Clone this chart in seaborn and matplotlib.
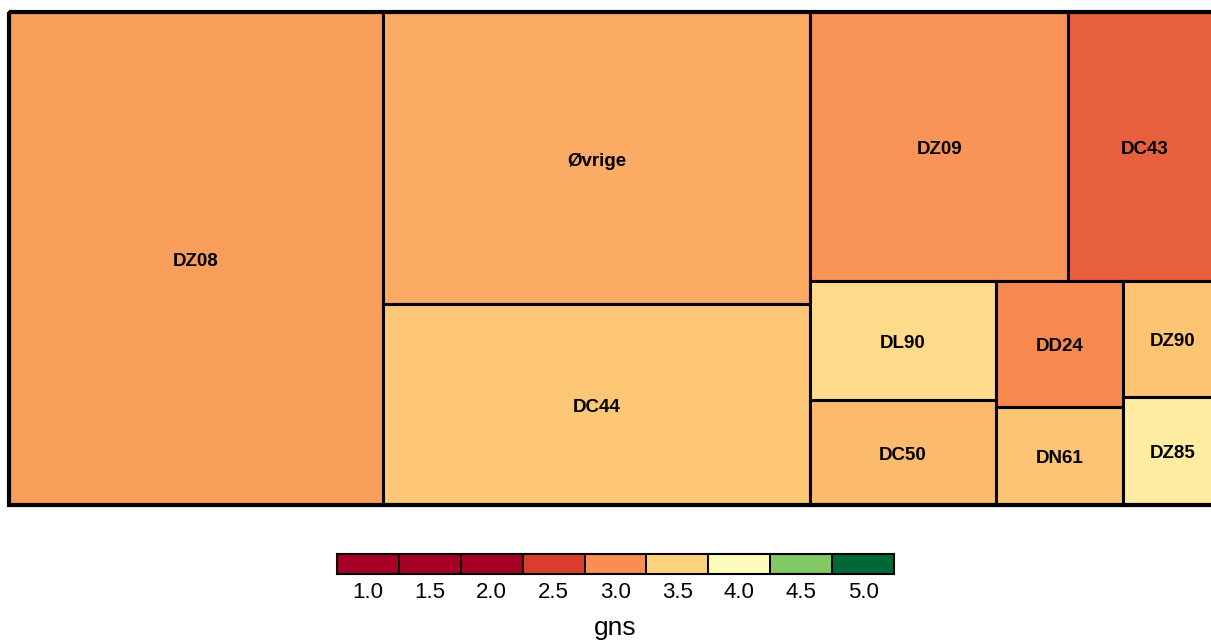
import matplotlib
matplotlib.use("Agg")
import matplotlib.pyplot as plt
import seaborn as sns
import numpy as np
from matplotlib.colors import LinearSegmentedColormap, Normalize
from matplotlib.patches import Rectangle

# tile data (size = area weight, gns = colour value)
labels = ["DZ08", "Øvrige", "DC44", "DZ09", "DC43", "DL90", "DC50", "DD24", "DN61", "DZ90", "DZ85"]
sizes = [184400, 124700, 85800, 69400, 41400, 22130, 19530, 16000, 12450, 11480, 10690]
gns = [3.11, 3.22, 3.43, 3.05, 2.71, 3.62, 3.33, 2.97, 3.42, 3.41, 3.79]

# legend
legend_values = [1.0, 1.5, 2.0, 2.5, 3.0, 3.5, 4.0, 4.5, 5.0]
legend_title = "gns"

# colour scale
cmap_nodes = [1.0, 1.5, 2.0, 2.5, 3.0, 3.5, 4.0, 4.5, 5.0]
cmap_colors = ["#a50026", "#a50026", "#a50026", "#dc3d2d", "#f88d52",
               "#fed07a", "#fffebe", "#86cb66", "#006837"]
norm = Normalize(vmin=1.0, vmax=5.0)
cmap = LinearSegmentedColormap.from_list(
    "gns", [((v - 1.0) / 4.0, c) for v, c in zip(cmap_nodes, cmap_colors)])


def pivot_size(items, x, y, w, h, out):
    """pivot-by-size ordered treemap layout"""
    if not items:
        return
    if len(items) == 1:
        out[items[0][0]] = (x, y, w, h)
        return
    pivot, rest = items[0], items[1:]
    total = sum(s for _, s in items)
    wide = w >= h
    best_k, best_r = 0, None
    for k in range(len(rest) + 1):
        band = pivot[1] + sum(s for _, s in rest[:k])
        if wide:
            bw = w * band / total
            ph = h * pivot[1] / band
            r = max(bw / ph, ph / bw)
        else:
            bh = h * band / total
            pw = w * pivot[1] / band
            r = max(bh / pw, pw / bh)
        if best_r is None or r < best_r:
            best_k, best_r = k, r
    l2, l3 = rest[:best_k], rest[best_k:]
    band = pivot[1] + sum(s for _, s in l2)
    if wide:
        bw = w * band / total
        ph = h * pivot[1] / band
        out[pivot[0]] = (x, y, bw, ph)
        pivot_size(l2, x, y + ph, bw, h - ph, out)
        pivot_size(l3, x + bw, y, w - bw, h, out)
    else:
        bh = h * band / total
        pw = w * pivot[1] / band
        out[pivot[0]] = (x, y, pw, bh)
        pivot_size(l2, x + pw, y, w - pw, bh, out)
        pivot_size(l3, x, y + bh, w, h - bh, out)


sns.set_theme(style="white")
plt.rcParams["font.family"] = ["Liberation Sans", "DejaVu Sans"]

fig = plt.figure(figsize=(12.11, 6.43), dpi=100)

# treemap area
W, H = 1213.0, 493.0
ax = fig.add_axes([9 / 1211, 138 / 643, W / 1211, H / 643])
ax.set_xlim(0, W)
ax.set_ylim(H, 0)
ax.axis("off")

order = sorted(range(len(sizes)), key=lambda i: -sizes[i])
scale = W * H / sum(sizes)
rects = {}
pivot_size([(i, sizes[i] * scale) for i in order], 0, 0, W, H, rects)

for i, (x, y, w, h) in rects.items():
    ax.add_patch(Rectangle((x, y), w, h, facecolor=cmap(norm(gns[i])),
                           edgecolor="black", lw=2.2, clip_on=False))
    ax.text(x + w / 2, y + h / 2 + 3, labels[i], ha="center", va="center",
            fontsize=13.5, fontweight="bold", color="black")
ax.add_patch(Rectangle((0, 0), W, H, fill=False, edgecolor="black", lw=3, clip_on=False))

# legend
lax = fig.add_axes([337 / 1211, 69 / 643, 557 / 1211, 20 / 643])
sns.heatmap(np.array([legend_values]), cmap=cmap, vmin=1.0, vmax=5.0, cbar=False,
            linewidths=1.2, linecolor="black", ax=lax,
            xticklabels=[f"{v:.1f}" for v in legend_values], yticklabels=False)
for s in lax.spines.values():
    s.set_visible(True)
    s.set_color("black")
    s.set_linewidth(1.5)
lax.tick_params(axis="x", length=0, labelsize=16, pad=6, rotation=0, colors="black")
lax.set_xlabel(legend_title, fontsize=19, labelpad=9, color="black")

fig.savefig("out.png", dpi=100)
